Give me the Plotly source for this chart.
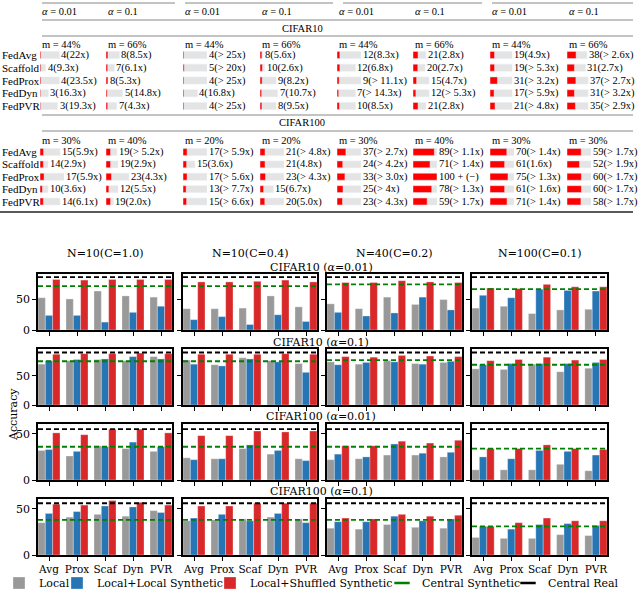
import plotly.graph_objects as go

W, H = 640, 611

# ---------- table data ----------
table_methods = ["FedAvg", "Scaffold", "FedProx", "FedDyn", "FedPVR"]
alpha_labels = ["<i>α</i> = 0.01", "<i>α</i> = 0.1"] * 4
c10_m = ["44%", "66%", "44%", "66%", "44%", "66%", "44%", "66%"]
c100_m = ["30%", "40%", "20%", "20%", "30%", "40%", "30%", "30%"]

# rounds (red bar), speedup label, baseline (grey bar), one list per column
c10_rounds = [[4, 4, 4, 3, 3], [8, 7, 8, 5, 7], [4, 5, 4, 4, 4], [8, 10, 9, 7, 8],
              [12, 12, 9, 7, 10], [21, 20, 15, 12, 21], [19, 19, 31, 17, 21], [38, 31, 37, 31, 35]]
c10_speedup = [["22", "9.3", "23.5", "16.3", "19.3"], ["8.5", "6.1", "5.3", "14.8", "4.3"],
               ["> 25", "> 20", "> 25", "16.8", "> 25"], ["5.6", "2.6", "8.2", "10.7", "9.5"],
               ["8.3", "6.8", "> 11.1", "> 14.3", "8.5"], ["2.8", "2.7", "4.7", "> 5.3", "2.8"],
               ["4.9", "> 5.3", "> 3.2", "> 5.9", "> 4.8"], ["> 2.6", "2.7", "> 2.7", "> 3.2", "> 2.9"]]
c10_baseline = [[81, 23, 81, 35, 73], [56, 35, 8, 69, 44], [100, 100, 100, 60, 100], [12, 19, 67, 73, 67],
                [100, 77, 100, 77, 77], [54, 50, 67, 67, 54], [92, 92, 92, 92, 92], [83, 77, 88, 88, 88]]

c100_rounds = [[15, 14, 17, 10, 14], [19, 19, 23, 12, 19], [17, 15, 17, 13, 15], [21, 21, 23, 15, 20],
               [37, 24, 33, 25, 23], [89, 71, 100, 78, 59], [70, 61, 75, 61, 71], [59, 52, 60, 60, 58]]
c100_speedup = [["5.9", "2.9", "5.9", "3.6", "6.1"], ["> 5.2", "2.9", "4.3", "5.5", "2.0"],
                ["> 5.9", "3.6", "> 5.6", "> 7.7", "> 6.6"], ["> 4.8", "4.8", "> 4.3", "6.7", "5.0"],
                ["> 2.7", "> 4.2", "> 3.0", "> 4", "> 4.3"], ["> 1.1", "> 1.4", "−", "> 1.3", "> 1.7"],
                ["> 1.4", "1.6", "> 1.3", "> 1.6", "> 1.4"], ["> 1.7", "> 1.9", "> 1.7", "> 1.7", "> 1.7"]]
c100_baseline = [[83, 33, 100, 33, 83], [46, 50, 96, 50, 31], [100, 50, 100, 100, 100], [100, 100, 100, 56, 100],
                 [100, 100, 100, 100, 100], [100, 100, 100, 100, 100], [100, 100, 100, 100, 100],
                 [100, 100, 100, 100, 100]]

# ---------- bar chart data ----------
methods = ["Avg", "Prox", "Scaf", "Dyn", "PVR"]
settings = ["N=10(C=1.0)", "N=10(C=0.4)", "N=40(C=0.2)", "N=100(C=0.1)"]
row_titles = ["CIFAR10 (<i>α</i>=0.01)", "CIFAR10 (<i>α</i>=0.1)",
              "CIFAR100 (<i>α</i>=0.01)", "CIFAR100 (<i>α</i>=0.1)"]

local_c10_001 = [[53, 51, 64, 56, 54], [35, 35, 36, 56, 38], [43, 35, 54, 42, 50], [36, 39, 27, 33, 34]]
locsyn_c10_001 = [[24, 24, 13, 29, 39], [17, 22, 9, 25, 14], [29, 23, 28, 54, 33], [57, 53, 67, 65, 64]]
shuf_c10_001 = [[83, 82, 83, 83, 83], [79, 79, 80, 82, 79], [78, 78, 81, 79, 78], [69, 68, 75, 71, 71]]

local_c10_01 = [[70, 76, 78, 76, 83], [77, 69, 81, 76, 71], [74, 70, 76, 71, 73], [62, 61, 70, 57, 63]]
locsyn_c10_01 = [[76, 78, 79, 83, 79], [70, 67, 79, 74, 56], [69, 73, 74, 70, 75], [69, 71, 71, 71, 73]]
shuf_c10_01 = [[87, 88, 88, 89, 88], [87, 87, 87, 88, 87], [83, 82, 85, 84, 83], [76, 78, 82, 77, 78]]

local_c100_001 = [[32, 26, 37, 34, 31], [24, 23, 34, 28, 23], [22, 23, 27, 27, 25], [11, 11, 11, 17, 10]]
locsyn_c100_001 = [[33, 31, 36, 41, 36], [22, 23, 38, 32, 21], [28, 25, 39, 29, 30], [25, 23, 32, 31, 27]]
shuf_c100_001 = [[51, 49, 55, 55, 51], [48, 48, 53, 52, 53], [37, 37, 42, 40, 43], [34, 34, 38, 34, 33]]

local_c100_01 = [[35, 41, 44, 42, 48], [37, 38, 39, 41, 39], [29, 28, 33, 30, 29], [19, 18, 18, 22, 21]]
locsyn_c100_01 = [[45, 47, 53, 52, 46], [40, 44, 37, 45, 35], [36, 36, 42, 37, 39], [31, 28, 33, 34, 32]]
shuf_c100_01 = [[55, 54, 59, 57, 54], [53, 53, 56, 56, 56], [40, 39, 44, 42, 43], [31, 35, 40, 37, 37]]

central_syn = [[72, 72, 75, 67], [75, 75, 77, 69], [36, 36, 36, 34], [38, 38, 38, 31]]
central_real = [87, 90, 55, 56]
y_max = [92, 96, 60.6, 60.6]

# ---------- positions (px) ----------
col_px = [(38, 172), (183, 317), (327, 462), (472, 607)]
row_px = [(274, 330), (349, 405), (424, 480), (499, 555)]
table_col_x = [40, 106, 183, 260, 337, 413, 490, 567]

SERIF = "DejaVu Serif"
TSERIF = "Liberation Serif"
GREY, BLUE, RED = "#999999", "#2676b6", "#d8282a"


def px(x):
    return x / W


def py(y):
    return 1 - y / H


def label(text, x, y, xanchor="center", size=11, family=SERIF, **kw):
    return dict(text=text, x=px(x), y=py(y), xref="paper", yref="paper", xanchor=xanchor,
                yanchor="middle", showarrow=False, font=dict(family=family, size=size, color="black"), **kw)


fig = go.Figure()
layout = {}
annotations = []
shapes = []

series = [
    ("Local", [local_c10_001, local_c10_01, local_c100_001, local_c100_01], GREY, "legend"),
    ("Local+Local Synthetic", [locsyn_c10_001, locsyn_c10_01, locsyn_c100_001, locsyn_c100_01], BLUE, "legend2"),
    ("Local+Shuffled Synthetic", [shuf_c10_001, shuf_c10_01, shuf_c100_001, shuf_c100_01], RED, "legend3"),
]

for r in range(4):
    for c in range(4):
        k = r * 4 + c + 1
        xa = "x" if k == 1 else f"x{k}"
        ya = "y" if k == 1 else f"y{k}"
        for name, data, color, lg in series:
            fig.add_trace(go.Bar(
                x=methods, y=data[r][c], name=name, marker_color=color,
                marker_line=dict(color="rgba(255,255,255,0.5)", width=0.6),
                xaxis=xa, yaxis=ya, showlegend=(k == 1), legend=lg,
            ))
        x0, x1 = col_px[c]
        y0, y1 = row_px[r]
        layout["xaxis" if k == 1 else f"xaxis{k}"] = dict(
            domain=[px(x0), px(x1)], anchor=ya, type="category", categoryarray=methods,
            range=[-0.393, 4.393], showline=True, mirror=True, linecolor="black", linewidth=1.5,
            ticks="outside", ticklen=4, tickcolor="black", showgrid=False, zeroline=False,
            showticklabels=(r == 3), tickangle=0,
            tickfont=dict(family=SERIF, size=10.5, color="black"),
        )
        layout["yaxis" if k == 1 else f"yaxis{k}"] = dict(
            domain=[py(y1), py(y0)], anchor=xa, range=[0, y_max[r]], tickvals=[0, 50],
            showline=True, mirror=True, linecolor="black", linewidth=1.5,
            ticks="outside", ticklen=4, tickcolor="black", showgrid=False, zeroline=False,
            showticklabels=(c == 0), tickfont=dict(family=SERIF, size=11, color="black"),
        )
        # central synthetic / central real reference lines
        for val, col in ((central_syn[r][c], "green"), (central_real[r], "black")):
            shapes.append(dict(type="line", xref=f"{xa} domain", x0=0, x1=1, yref=ya, y0=val, y1=val,
                               line=dict(color=col, width=1.8, dash="5px,3px")))

# legend entries for the reference lines (short dash glyphs)
for name, col, lg in (("Central Synthetic", "green", "legend4"), ("Central Real", "black", "legend5")):
    fig.add_trace(go.Scatter(x=[None], y=[None], mode="markers", name=name, legend=lg,
                             marker=dict(symbol="line-ew", size=11, line=dict(color=col, width=2.5)),
                             xaxis="x", yaxis="y"))

for c, title in enumerate(settings):
    annotations.append(label(title, sum(col_px[c]) / 2, 253))
for title, ty in zip(row_titles, [267, 342, 416, 491]):
    annotations.append(label(title, 321, ty))
annotations.append(label("Accuracy", 13, 415, textangle=-90))

# ---------- table ----------
blocks = [
    (c10_rounds, c10_speedup, c10_baseline, c10_m, "y17", (48.6, 112.4), 44),
    (c100_rounds, c100_speedup, c100_baseline, c100_m, "y18", (145.8, 207.7), 140),
]
for j, sx in enumerate(table_col_x):
    xa = f"x{17 + j}"
    layout[f"xaxis{17 + j}"] = dict(domain=[px(sx), px(sx + 24)], range=[0, 100], visible=False, anchor="y17")
    annotations.append(label(alpha_labels[j], sx, 12, xanchor="left", size=10.5, family=TSERIF))
    for rounds, speed, base, mlab, ya, _, my in blocks:
        fig.add_trace(go.Bar(x=base[j], y=table_methods, orientation="h", xaxis=xa, yaxis=ya,
                             marker_color="#e4e4e4", width=0.56, offset=-0.28, showlegend=False))
        fig.add_trace(go.Bar(x=rounds[j], y=table_methods, orientation="h", xaxis=xa, yaxis=ya,
                             marker_color="#ff0000", width=0.56, offset=-0.28, showlegend=False))
        annotations.append(label(f"m = {mlab[j]}", sx, my, xanchor="left", size=10.5, family=TSERIF))
        for i, m in enumerate(table_methods):
            s = speed[j][i]
            txt = f"{rounds[j][i]} + (−)" if s == "−" else f"{rounds[j][i]}({s}x)"
            annotations.append(dict(text=txt, x=base[j][i], y=m, xref=xa, yref=ya, xanchor="left",
                                    yanchor="middle", showarrow=False,
                                    font=dict(family=TSERIF, size=10.5, color="black")))

for _, _, _, _, ya, (t0, t1), _ in blocks:
    layout["yaxis" + ya[1:]] = dict(domain=[py(t1), py(t0)], type="category", categoryarray=table_methods,
                                    range=[4.5, -0.5], visible=False, anchor="x17")
    for m in table_methods:
        annotations.append(dict(text=m, x=0, y=m, xref="paper", yref=ya, xanchor="left", yanchor="middle",
                                showarrow=False, font=dict(family=TSERIF, size=11, color="black")))

annotations.append(label("CIFAR10", 302, 29, size=10.5, family=TSERIF))
annotations.append(label("CIFAR100", 302, 123, size=10.5, family=TSERIF))

# table rules
for a, b in ((42, 175), (185, 333), (343, 482), (492, 633)):
    shapes.append(dict(type="line", xref="paper", yref="paper", x0=px(a), x1=px(b), y0=py(3), y1=py(3),
                       line=dict(color="#888888", width=1)))
for ly in (20, 36, 115, 131):
    shapes.append(dict(type="line", xref="paper", yref="paper", x0=px(42), x1=px(633), y0=py(ly), y1=py(ly),
                       line=dict(color="#888888", width=1)))
shapes.append(dict(type="line", xref="paper", yref="paper", x0=0, x1=px(633), y0=py(212), y1=py(212),
                   line=dict(color="#222222", width=1.6)))

# legends, one per entry so each can sit where the reference has it
for i, tx in enumerate([42, 100, 253, 425, 551]):
    key = "legend" if i == 0 else f"legend{i + 1}"
    layout[key] = dict(x=px(tx - 43), y=py(583), xanchor="left", yanchor="middle", orientation="h",
                       font=dict(family=SERIF, size=11, color="black"), bgcolor="rgba(0,0,0,0)",
                       itemwidth=30)

fig.update_layout(
    width=W, height=H, margin=dict(l=0, r=0, t=0, b=0, autoexpand=False),
    paper_bgcolor="white", plot_bgcolor="white",
    barmode="group", bargap=0.214, bargroupgap=0,
    annotations=annotations, shapes=shapes,
    **layout,
)

# drop the browser's default 8px body margin so the figure sits at the page origin
fig.write_html("out.html", config={"displayModeBar": False},
               post_script="document.body.style.margin = '0';")
